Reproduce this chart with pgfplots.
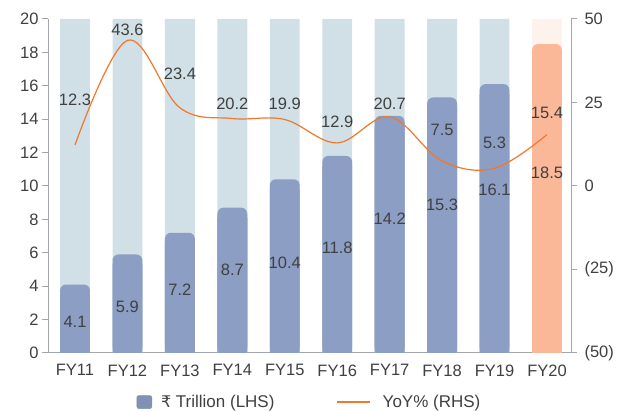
\documentclass[border=0pt]{standalone}
\usepackage{pgfplots}
\pgfplotsset{compat=1.18}
\usepackage{pgfplotstable}
\usepackage{fontspec}
\setmainfont{Liberation Sans}
\newfontfamily\rupeefont{DejaVu Sans}
\definecolor{bgc}{HTML}{D1DFE6}
\definecolor{bgt}{HTML}{FEF2EC}
\definecolor{barc}{HTML}{8C9EC4}
\definecolor{bart}{HTML}{FBB899}
\definecolor{linec}{HTML}{F0782D}
\definecolor{txt}{HTML}{404040}
\definecolor{axc}{HTML}{A3A7AB}
\pgfplotstableread{
x v
0 4.1
1 5.9
2 7.2
3 8.7
4 10.4
5 11.8
6 14.2
7 15.3
8 16.1
}\bars
\pgfplotstableread{
x v
9 18.5
}\barlast
\pgfplotstableread{
x v
0 12.3
1 43.6
2 23.4
3 20.2
4 19.9
5 12.9
6 20.7
7 7.5
8 5.3
9 15.4
}\yoy
\begin{document}
\begin{tikzpicture}[font=\fontsize{16.5}{19}\selectfont, every node/.style={text=txt}]
\begin{axis}[
  name=ax,
  scale only axis, width=523pt, height=334pt,
  xmin=-0.515, xmax=9.458, ymin=0, ymax=20,
  axis y line*=left, axis x line*=bottom,
  axis line style={-, draw=axc, line width=1pt},
  x axis line style={shorten <=-6pt, shorten >=-6pt},
  ybar, bar width=0.57, bar shift=0pt,
  ytick={0,2,...,20},
  xtick={0,...,9},
  xticklabels={FY11,FY12,FY13,FY14,FY15,FY16,FY17,FY18,FY19,FY20},
  xtick style={draw=none},
  ytick style={draw=axc, line width=1pt},
  tick align=outside, major tick length=6pt,
  tick label style={text=txt},
  yticklabel style={xshift=0pt},
  xticklabel style={yshift=-2pt},
  /pgf/number format/assume math mode=true,
  clip=false,
]
\addplot[fill=bgc, draw=none] coordinates {(0,20)(1,20)(2,20)(3,20)(4,20)(5,20)(6,20)(7,20)(8,20)};
\addplot[fill=bgt, draw=none] coordinates {(9,20)};
\addplot[fill=barc, draw=none, rounded corners=6pt] table[x=x,y=v] {\bars};
\addplot[fill=barc, draw=none] table[x=x,y expr=\thisrow{v}-0.6] {\bars};
\addplot[fill=bart, draw=none, rounded corners=6pt] table[x=x,y=v] {\barlast};
\addplot[fill=bart, draw=none] table[x=x,y expr=\thisrow{v}-0.6] {\barlast};
\node at (axis cs:0,1.86) {4.1};
\node at (axis cs:1,2.75) {5.9};
\node at (axis cs:2,3.77) {7.2};
\node at (axis cs:3,4.97) {8.7};
\node at (axis cs:4,5.39) {10.4};
\node at (axis cs:5,6.29) {11.8};
\node at (axis cs:6,8.02) {14.2};
\node at (axis cs:7,8.86) {15.3};
\node at (axis cs:8,9.76) {16.1};
\node at (axis cs:9,10.78) {18.5};
\end{axis}
\begin{axis}[
  scale only axis, width=523pt, height=334pt,
  xmin=-0.515, xmax=9.458, ymin=-50, ymax=50,
  axis y line*=right, axis x line=none,
  axis line style={-, draw=axc, line width=1pt},
  ytick={-50,-25,0,25,50},
  yticklabels={(50),(25),0,25,50},
  ytick style={draw=axc, line width=1pt},
  tick align=outside, major tick length=6pt,
  tick label style={text=txt},
  yticklabel style={xshift=4pt},
  clip=false,
  legend style={at={(0.5,-0.147)}, anchor=center, draw=none, fill=none,
    legend columns=2, font=\fontsize{17}{19}\selectfont,
    nodes={inner sep=2pt},
    /tikz/every even column/.append style={column sep=60pt}},
]
\addlegendimage{legend image code/.code={\fill[barc!92!black, rounded corners=2pt] (0pt,-6.5pt) rectangle (15pt,6.5pt); \path (22pt,0pt);}}
\addlegendentry{{\rupeefont\fontsize{16}{19}\selectfont ₹} Trillion (LHS)}
\addplot[linec, line width=1.2pt, smooth, tension=0.6, mark=none,
  legend image code/.code={\draw[linec, line width=1.2pt] (0pt,0pt) -- (33pt,0pt); \path (43pt,0pt);}] table[x=x,y=v] {\yoy};
\addlegendentry{YoY\% (RHS)}
\node at (axis cs:0,25.7) {12.3};
\node at (axis cs:1,46.7) {43.6};
\node at (axis cs:2,33.5) {23.4};
\node at (axis cs:3,24.6) {20.2};
\node at (axis cs:4,24.6) {19.9};
\node at (axis cs:5,19.2) {12.9};
\node at (axis cs:6,24.6) {20.7};
\node at (axis cs:7,16.8) {7.5};
\node at (axis cs:8,12.9) {5.3};
\node at (axis cs:9,21.9) {15.4};
\end{axis}
\pgfresetboundingbox
\path[use as bounding box] ([shift={(-48pt,-59pt)}]ax.south west) rectangle ([shift={(56pt,19pt)}]ax.north east);
\end{tikzpicture}
\end{document}
